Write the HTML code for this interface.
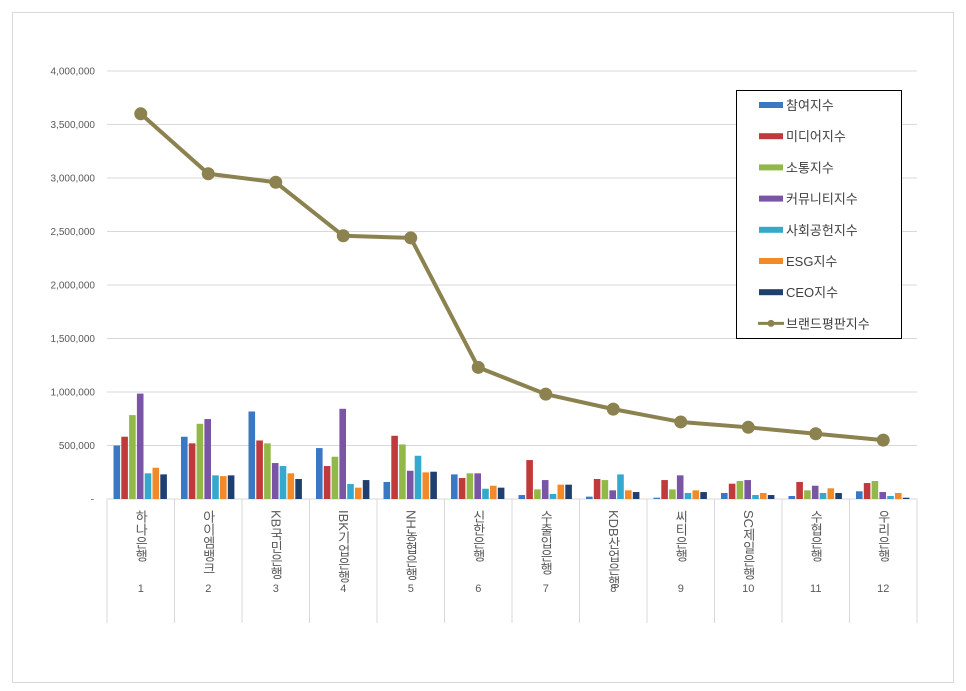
<!DOCTYPE html>
<html><head><meta charset="utf-8"><style>
html,body{margin:0;padding:0;background:#fff;}
body{width:966px;height:691px;position:relative;overflow:hidden;font-family:"Liberation Sans","Noto Sans CJK KR",sans-serif;}
#frame{position:absolute;left:12px;top:12px;width:940px;height:669px;border:1px solid #d9d9d9;}
</style></head><body>
<div id="frame"></div>
<svg id="chart" width="966" height="691" style="position:absolute;left:0;top:0"></svg>
<script>
const categories=["하나은행","아이엠뱅크","KB국민은행","IBK기업은행","NH농협은행","신한은행","수출입은행","KDB산업은행","씨티은행","SC제일은행","수협은행","우리은행"];
const ranks=["1","2","3","4","5","6","7","8","9","10","11","12"];
const seriesNames=["참여지수","미디어지수","소통지수","커뮤니티지수","사회공헌지수","ESG지수","CEO지수"];
const seriesColors=["#3a78c3","#c0393b","#93b84a","#7a55a5","#35a9cc","#f28a2a","#1f3f6e"];
const participation=[500000,582000,818000,476000,159000,230000,37000,22000,12000,56000,28000,72000];
const media=[582000,520000,547000,308000,591000,196000,364000,187000,177000,143000,159000,149000];
const communication=[784000,703000,520000,395000,510000,240000,90000,177000,90000,168000,81000,168000];
const community=[985000,747000,336000,843000,264000,240000,177000,81000,221000,177000,124000,65000];
const social=[240000,221000,308000,140000,404000,96000,47000,230000,56000,37000,56000,28000];
const esg=[292000,214000,240000,106000,249000,124000,134000,81000,81000,56000,100000,56000];
const ceo=[230000,221000,187000,177000,255000,106000,134000,65000,65000,37000,56000,12000];
const brandIndex=[3600000,3040000,2960000,2460000,2440000,1230000,980000,840000,720000,670000,610000,550000];
const yTicks=[0,500000,1000000,1500000,2000000,2500000,3000000,3500000,4000000];
const yTickLabels=["-","500,000","1,000,000","1,500,000","2,000,000","2,500,000","3,000,000","3,500,000","4,000,000"];

const NS="http://www.w3.org/2000/svg";
const svg=document.getElementById('chart');
const X0=107,X1=917,Y0=499,YT=71,YMAX=4000000;
const gw=(X1-X0)/categories.length;
function y(v){return Y0-(v/YMAX)*(Y0-YT);}
function gx(i){return X0+i*gw;}
function mk(tag,attrs,parent){const e=document.createElementNS(NS,tag);for(const k in attrs)e.setAttribute(k,attrs[k]);(parent||svg).appendChild(e);return e;}

// gridlines & y labels
yTicks.forEach((t,i)=>{
  if(i>0){const g=mk('line',{x1:X0,x2:X1,y1:y(t),y2:y(t),stroke:'#d9d9d9','stroke-width':1});
  
  }
  const tx=mk('text',{x:i===0?94:95,y:y(t)+3.5,'text-anchor':'end','font-size':'10','fill':'#595959'});
  tx.textContent=yTickLabels[i];
  
  
});
// category table lines
const ax=mk('line',{x1:X0,x2:X1,y1:Y0,y2:Y0,stroke:'#d9d9d9'});


for(let i=0;i<=categories.length;i++){
  const l=mk('line',{x1:gx(i),x2:gx(i),y1:Y0,y2:623,stroke:'#d9d9d9'});
  
  
}
// bars
const series=[participation,media,communication,community,social,esg,ceo];
series.forEach((arr,s)=>{
  arr.forEach((v,i)=>{
    const bx=gx(i)+6.5+s*7.8;
    const r=mk('rect',{x:bx,y:y(v),width:6.6,height:Y0-y(v),fill:seriesColors[s]});
    
    
  });
});
// category labels
categories.forEach((c,i)=>{
  const cx=gx(i)+gw/2;
  const t=mk('text',{x:cx,y:510,'font-size':'13','fill':'#595959','style':'writing-mode:vertical-rl;','text-anchor':'start'});
  t.textContent=c;
  
  
  const n=mk('text',{x:cx,y:592,'font-size':'11','fill':'#595959','text-anchor':'middle'});
  n.textContent=ranks[i];
  
  
});
// line
const pts=brandIndex.map((v,i)=>(gx(i)+gw/2)+','+y(v)).join(' ');
const pl=mk('polyline',{points:pts,fill:'none',stroke:'#8b8250','stroke-width':4,'stroke-linejoin':'round'});


brandIndex.forEach((v,i)=>{
  const c=mk('circle',{cx:gx(i)+gw/2,cy:y(v),r:6.5,fill:'#8b8250'});
  
  
});
// legend
const lg=mk('g',{});


mk('rect',{x:736.5,y:90.5,width:165,height:248,fill:'#fff',stroke:'#000','stroke-width':1},lg);
const names=seriesNames.concat(["브랜드평판지수"]);
names.forEach((nm,k)=>{
  const ly=105+k*31.2;
  const e=mk('g',{},lg);
  
  
  if(k<7){mk('rect',{x:759,y:ly-3,width:24,height:6,fill:seriesColors[k]},e);}
  else{mk('line',{x1:758,x2:784,y1:ly,y2:ly,stroke:'#8b8250','stroke-width':3},e);mk('circle',{cx:771,cy:ly,r:3.5,fill:'#8b8250'},e);}
  const t=mk('text',{x:786,y:ly+5,'font-size':'13','fill':'#404040'},e);
  t.textContent=nm;
});
</script>
</body></html>
